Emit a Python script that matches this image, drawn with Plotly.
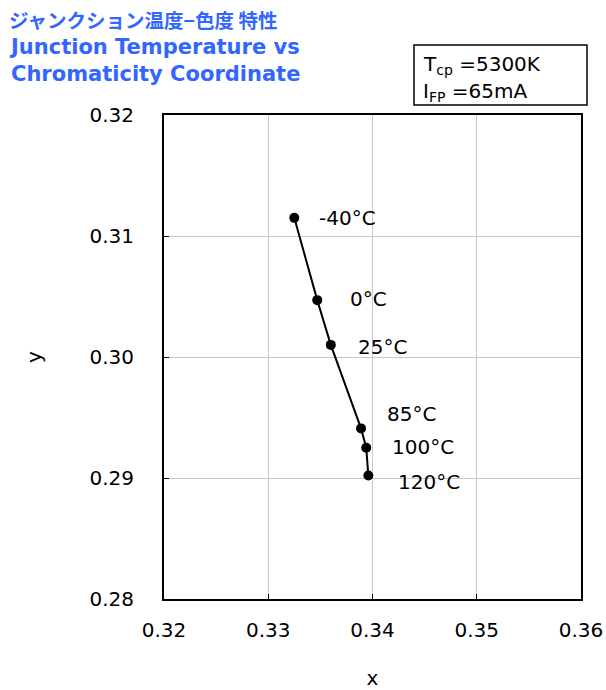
import plotly.graph_objects as go

temps = ["-40°C", "0°C", "25°C", "85°C", "100°C", "120°C"]
x_vals = [0.3325, 0.3347, 0.3360, 0.3389, 0.3394, 0.3396]
y_vals = [0.3115, 0.3047, 0.3010, 0.2941, 0.2925, 0.2902]
label_dx = [23, 31, 25, 24, 24, 28]
label_dy = [0, 1, -2, 14, 1, -6]

x_ticks = [0.32, 0.33, 0.34, 0.35, 0.36]
y_ticks = [0.28, 0.29, 0.30, 0.31, 0.32]

FONT = "DejaVu Sans"
BLUE = "#3366ff"

fig = go.Figure()
fig.add_trace(go.Scatter(
    x=x_vals, y=y_vals, mode="lines+markers",
    line=dict(color="black", width=2),
    marker=dict(color="black", size=10),
    showlegend=False, hoverinfo="skip",
))

for t, xv, yv, dx, dy in zip(temps, x_vals, y_vals, label_dx, label_dy):
    fig.add_annotation(x=xv, y=yv, text=t, showarrow=False, xanchor="left",
                       yanchor="middle", xshift=dx, yshift=dy,
                       font=dict(family=FONT, size=20, color="black"))

axis_common = dict(
    showgrid=True, gridcolor="#c8c8c8", gridwidth=1,
    showline=True, linecolor="black", linewidth=2, mirror=True,
    ticks="inside", ticklen=5, tickcolor="black",
    tickfont=dict(family=FONT, size=20, color="black"),
    zeroline=False,
)
fig.update_xaxes(range=[0.32, 0.36], tickvals=x_ticks,
                 ticktext=[f"{v:.2f}" for v in x_ticks],
                 ticklabelstandoff=12,
                 title=dict(text="x", font=dict(family=FONT, size=20, color="black"), standoff=30),
                 **axis_common)
fig.update_yaxes(range=[0.28, 0.32], tickvals=y_ticks,
                 ticktext=[f"{v:.2f}" for v in y_ticks],
                 ticklabelstandoff=24,
                 title=dict(text="y", font=dict(family=FONT, size=20, color="black"), standoff=42),
                 **axis_common)

# Title
fig.add_annotation(xref="paper", yref="paper", x=-0.376, y=(599 - 19) / 484, xanchor="left", yanchor="middle",
                   text="<b>ジャンクション温度−色度 特性</b>", showarrow=False,
                   font=dict(family="Noto Sans CJK JP", size=19.5, color=BLUE))
fig.add_annotation(xref="paper", yref="paper", x=-0.376, y=(599 - 60) / 484, xanchor="left", yanchor="middle",
                   text="<b>Junction Temperature vs<br>Chromaticity Coordinate</b>", showarrow=False,
                   align="left",
                   font=dict(family=FONT, size=21, color=BLUE))

# Condition box
fig.add_shape(type="rect", xref="paper", yref="paper",
              x0=0.5995, x1=1.0144, y0=1.0207, y1=1.1446,
              line=dict(color="black", width=1.5), fillcolor="white")
fig.add_annotation(xref="paper", yref="paper", x=0.6175, y=1.1033, xanchor="left", yanchor="middle",
                   text="T<sub>cp</sub> =5300K", showarrow=False,
                   font=dict(family=FONT, size=20, color="black"))
fig.add_annotation(xref="paper", yref="paper", x=0.6175, y=1.0475, xanchor="left", yanchor="middle",
                   text="I<sub>FP</sub> =65mA", showarrow=False,
                   font=dict(family=FONT, size=20, color="black"))

fig.update_layout(
    width=606, height=690,
    margin=dict(l=164, r=25, t=115, b=91, autoexpand=False),
    plot_bgcolor="white", paper_bgcolor="white",
    font=dict(family=FONT),
)

fig.write_html("out.html", config={"displayModeBar": False},
               post_script="document.body.style.margin='0px';document.body.style.padding='0px';")
